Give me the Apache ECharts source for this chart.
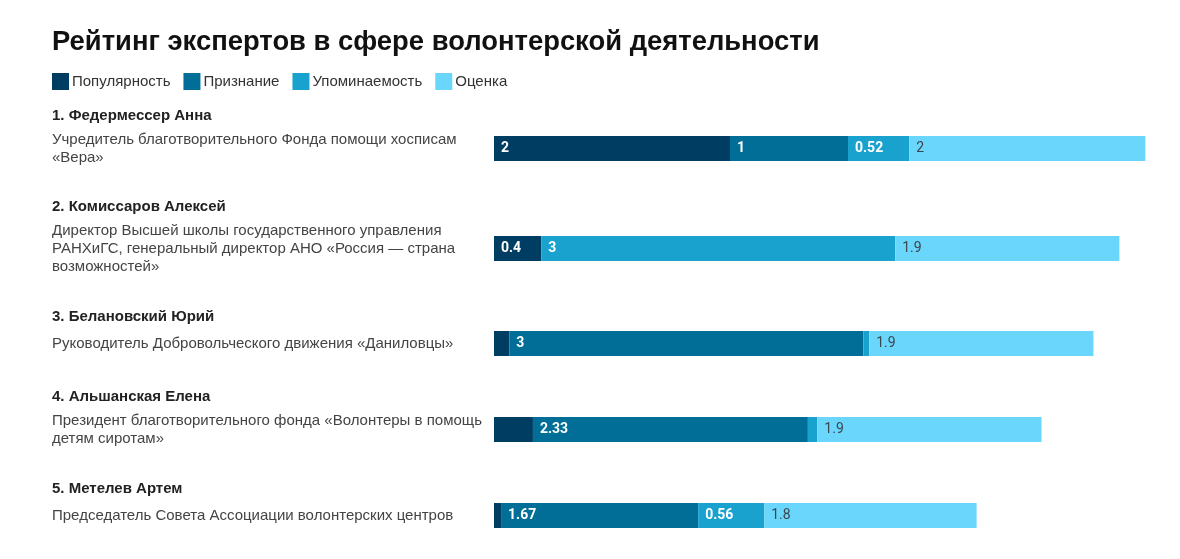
<!DOCTYPE html>
<html>
<head>
<meta charset="utf-8">
<script src="https://cdn.jsdelivr.net/npm/echarts@6/dist/echarts.min.js"></script>
<style>
  html, body { margin: 0; padding: 0; background: #fff; }
  #chart { width: 1180px; height: 559px; }
</style>
</head>
<body>
<div id="chart"></div>
<script>
// данные рейтинга
var names = [
    '1. Федермессер Анна',
    '2. Комиссаров Алексей',
    '3. Белановский Юрий',
    '4. Альшанская Елена',
    '5. Метелев Артем'
];
var roles = [
    ['Учредитель благотворительного Фонда помощи хосписам', '«Вера»'],
    ['Директор Высшей школы государственного управления', 'РАНХиГС, генеральный директор АНО «Россия — страна', 'возможностей»'],
    ['Руководитель Добровольческого движения «Даниловцы»'],
    ['Президент благотворительного фонда «Волонтеры в помощь', 'детям сиротам»'],
    ['Председатель Совета Ассоциации волонтерских центров']
];
var seriesNames = ['Популярность', 'Признание', 'Упоминаемость', 'Оценка'];
var popularity  = [2, 0.4, 0.13, 0.33, 0.06];
var recognition = [1, 0, 3, 2.33, 1.67];
var mentions    = [0.52, 3, 0.05, 0.08, 0.56];
var rating      = [2, 1.9, 1.9, 1.9, 1.8];

// оформление
var colors = ['#003d62', '#006e96', '#1aa2ce', '#6ad6fc'];
var gridLeft = 494, unit = 118, xMax = 5.6, barH = 25;
var rowTops = [136, 236, 331, 417, 503];
var font = '"Liberation Sans", Arial, sans-serif';
var numFont = 'Roboto';

var values = [popularity, recognition, mentions, rating];
var grids = [], xAxes = [], yAxes = [], series = [];

rowTops.forEach(function(top, i) {
    grids.push({ left: gridLeft, top: top, width: unit * xMax, height: barH });
    xAxes.push({ gridIndex: i, type: 'value', min: 0, max: xMax, show: false });
    yAxes.push({
        gridIndex: i,
        type: 'category',
        data: [names[i]],
        axisLine: { show: false },
        axisTick: { show: false },
        axisLabel: {
            margin: gridLeft - 52,
            align: 'left',
            fontFamily: font,
            formatter: function() {
                var key = roles[i].length > 1 ? 'n' : 'n1';
                var s = '{' + key + '|' + names[i] + '}';
                roles[i].forEach(function(line) { s += '\n{d|' + line + '}'; });
                return s + '\n{' + key + '|\u00a0}';
            },
            rich: {
                n:  { fontFamily: font, fontSize: 15, fontWeight: 'bold', color: '#222', lineHeight: 30 },
                n1: { fontFamily: font, fontSize: 15, fontWeight: 'bold', color: '#222', lineHeight: 36 },
                d:  { fontFamily: font, fontSize: 15, color: '#444', lineHeight: 18 }
            }
        }
    });
    seriesNames.forEach(function(name, j) {
        series.push({
            type: 'bar',
            name: name,
            xAxisIndex: i,
            yAxisIndex: i,
            stack: 'row' + i,
            barWidth: '100%',
            data: [values[j][i]],
            itemStyle: { color: colors[j] },
            label: {
                show: true,
                position: 'insideLeft',
                distance: 7,
                fontFamily: numFont,
                fontSize: 14,
                fontWeight: j < 3 ? 'bold' : 'normal',
                color: j < 3 ? '#fff' : '#3c4650',
                formatter: function(p) { return p.value >= 0.35 ? p.value : ''; }
            }
        });
    });
});

var chart = echarts.init(document.getElementById('chart'));
chart.setOption({
    animation: false,
    title: {
        text: 'Рейтинг экспертов в сфере волонтерской деятельности',
        left: 47,
        top: 24,
        textStyle: { fontFamily: font, fontSize: 27.4, fontWeight: 'bold', color: '#111' }
    },
    legend: {
        data: seriesNames,
        left: 47,
        top: 68,
        icon: 'rect',
        itemWidth: 17,
        itemHeight: 17,
        itemGap: 13,
        textStyle: { fontFamily: font, fontSize: 15, color: '#333', padding: [0, 0, 0, -2] }
    },
    grid: grids,
    xAxis: xAxes,
    yAxis: yAxes,
    series: series
});
</script>
</body>
</html>
